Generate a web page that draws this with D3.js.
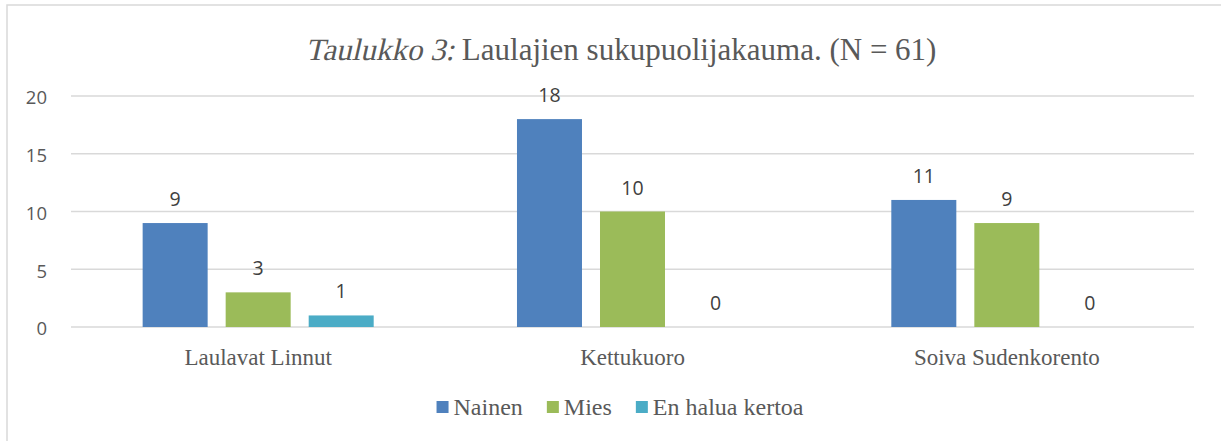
<!DOCTYPE html>
<html>
<head>
<meta charset="utf-8">
<script src="https://cdn.jsdelivr.net/npm/d3@7"></script>
<style>
  html, body { margin: 0; padding: 0; background: #fff; }
  svg { display: block; }
</style>
</head>
<body>
<svg id="chart" width="1221" height="441"></svg>
<script>
const categories = ["Laulavat Linnut", "Kettukuoro", "Soiva Sudenkorento"];
const seriesNames = ["Nainen", "Mies", "En halua kertoa"];
const nainen = [9, 18, 11];
const mies = [3, 10, 9];
const enHalua = [1, 0, 0];
const yTicks = [0, 5, 10, 15, 20];
const colors = ["#4F81BD", "#9BBB59", "#4BACC6"];
const titleItalic = "Taulukko 3:";
const titleRest = " Laulajien sukupuolijakauma. (N = 61)";

const seriesValues = [nainen, mies, enHalua];

const svg = d3.select("#chart");
const W = 1221, H = 441;
const plot = { left: 71, right: 1194, top: 96, bottom: 327 };
const serif = "'Liberation Serif', 'Times New Roman', serif";
const sans = "'Open Sans', 'Liberation Sans', sans-serif";

// outer frame (top and left edges visible)
svg.append("path")
  .attr("d", `M7,${H + 5} L7,5 L${W + 5},5`)
  .attr("fill", "none")
  .attr("stroke", "#d9d9d9")
  .attr("stroke-width", 1.5);

// title: italic part drawn as slanted serif, rest upright
const titleG = svg.append("g");
const tItal = titleG.append("text")
  .attr("font-family", serif).attr("font-size", 31).attr("fill", "#595959")
  .text(titleItalic);
const tRest = titleG.append("text")
  .attr("font-family", serif).attr("font-size", 31).attr("fill", "#595959")
  .attr("xml:space", "preserve").style("white-space", "pre")
  .text(titleRest);
const wI = tItal.node().getComputedTextLength();
const wR = tRest.node().getComputedTextLength();
const tx = 621 - (wI + wR) / 2, ty = 60;
tItal.attr("transform", `translate(${tx},${ty}) skewX(-13)`);
tRest.attr("transform", `translate(${tx + wI},${ty})`);

const y = d3.scaleLinear().domain([0, 20]).range([plot.bottom, plot.top]);
const x0 = d3.scaleBand().domain(categories).range([plot.left, plot.right]).paddingInner(0).paddingOuter(0);
const x1 = d3.scaleBand().domain(seriesNames).range([0, x0.bandwidth()])
  .paddingInner(0.217).paddingOuter(0.863);

// gridlines
svg.append("g").selectAll("line").data(yTicks).join("line")
  .attr("x1", plot.left).attr("x2", plot.right)
  .attr("y1", d => y(d)).attr("y2", d => y(d))
  .attr("stroke", "#d9d9d9").attr("stroke-width", 1.5);

// y axis labels
const yAxis = d3.axisLeft(y).tickValues(yTicks).tickSize(0).tickPadding(0);
const yg = svg.append("g").attr("transform", "translate(47,2)").call(yAxis);
yg.select(".domain").remove();
yg.selectAll("text")
  .attr("font-family", sans)
  .attr("font-size", 18.5)
  .attr("fill", "#595959");

// bars
const groups = svg.append("g").selectAll("g").data(categories).join("g")
  .attr("transform", d => `translate(${x0(d)},0)`);

groups.each(function(cat, ci) {
  const g = d3.select(this);
  seriesNames.forEach((s, si) => {
    const v = seriesValues[si][ci];
    if (v > 0) {
      g.append("rect")
        .attr("x", x1(s)).attr("width", x1.bandwidth())
        .attr("y", y(v)).attr("height", y(0) - y(v))
        .attr("fill", colors[si]);
    }
    g.append("text")
      .attr("x", x1(s) + x1.bandwidth() / 2)
      .attr("y", y(v) - 17)
      .attr("text-anchor", "middle")
      .attr("font-family", sans)
      .attr("font-size", 19.5)
      .attr("fill", "#404040")
      .text(v);
  });
});

// x axis labels
const xAxis = d3.axisBottom(x0).tickSize(0).tickPadding(0);
const xg = svg.append("g").attr("transform", `translate(0,${plot.bottom + 22})`).call(xAxis);
xg.select(".domain").remove();
xg.selectAll("text")
  .attr("font-family", serif)
  .attr("font-size", 23)
  .attr("fill", "#595959");

// legend
const legend = svg.append("g");
let lx = 0;
seriesNames.forEach((s, i) => {
  const g = legend.append("g");
  g.append("rect").attr("x", 0).attr("y", -14).attr("width", 12).attr("height", 12).attr("fill", colors[i]);
  const t = g.append("text").attr("x", 17).attr("y", 0)
    .attr("font-family", serif).attr("font-size", 24).attr("fill", "#595959").text(s);
  const w = 17 + t.node().getComputedTextLength();
  g.attr("transform", `translate(${lx},0)`);
  lx += w + 24;
});
const totalW = lx - 24;
legend.attr("transform", `translate(${620 - totalW / 2},415)`);
</script>
</body>
</html>
